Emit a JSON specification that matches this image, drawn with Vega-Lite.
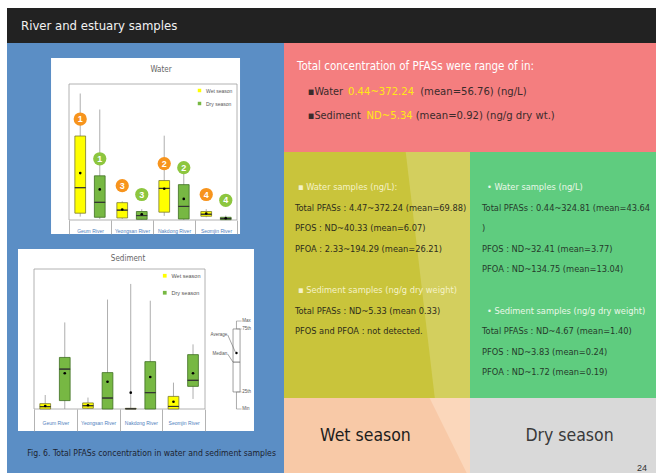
{
"$schema": "https://vega.github.io/schema/vega-lite/v6.json",
"background": "#5b8ec5",
"padding": 0,
"spacing": 0,
"config": {"view": {"stroke": null}, "font": "Liberation Sans"},
"datasets": {
 "water": [
  {"river": "Geum River", "season": "Wet season", "min": 10, "q1": 20, "median": 95, "q3": 247, "max": 372, "mean": 138, "rank": 1},
  {"river": "Geum River", "season": "Dry season", "min": 3, "q1": 8, "median": 52, "q3": 130, "max": 325, "mean": 90, "rank": 1},
  {"river": "Yeongsan River", "season": "Wet season", "min": 3, "q1": 6, "median": 29, "q3": 51, "max": 55, "mean": 31, "rank": 3},
  {"river": "Yeongsan River", "season": "Dry season", "min": 1, "q1": 2, "median": 13, "q3": 25, "max": 32, "mean": 17, "rank": 3},
  {"river": "Nakdong River", "season": "Wet season", "min": 12, "q1": 23, "median": 93, "q3": 116, "max": 248, "mean": 92, "rank": 2},
  {"river": "Nakdong River", "season": "Dry season", "min": 0, "q1": 3, "median": 40, "q3": 104, "max": 150, "mean": 62, "rank": 2},
  {"river": "Seomjin River", "season": "Wet season", "min": 8, "q1": 11, "median": 17, "q3": 25, "max": 32, "mean": 19, "rank": 4},
  {"river": "Seomjin River", "season": "Dry season", "min": 0.4, "q1": 1, "median": 4, "q3": 8, "max": 13, "mean": 5, "rank": 4}
 ],
 "sediment": [
  {"river": "Geum River", "season": "Wet season", "min": 0, "q1": 0, "median": 0.1, "q3": 0.23, "max": 0.6, "mean": 0.13},
  {"river": "Geum River", "season": "Dry season", "min": 0, "q1": 0.36, "median": 1.71, "q3": 2.21, "max": 3.71, "mean": 1.53},
  {"river": "Yeongsan River", "season": "Wet season", "min": 0, "q1": 0.03, "median": 0.14, "q3": 0.26, "max": 0.49, "mean": 0.16},
  {"river": "Yeongsan River", "season": "Dry season", "min": 0, "q1": 0, "median": 0.47, "q3": 1.56, "max": 4.69, "mean": 1.17},
  {"river": "Nakdong River", "season": "Wet season", "min": 0, "q1": 0, "median": 0.01, "q3": 0.03, "max": 5.36, "mean": 0.7},
  {"river": "Nakdong River", "season": "Dry season", "min": 0, "q1": 0, "median": 0.7, "q3": 2.03, "max": 4.64, "mean": 1.37},
  {"river": "Seomjin River", "season": "Wet season", "min": 0, "q1": 0, "median": 0.11, "q3": 0.54, "max": 1.13, "mean": 0.31},
  {"river": "Seomjin River", "season": "Dry season", "min": 0.43, "q1": 0.97, "median": 1.23, "q3": 2.33, "max": 2.77, "mean": 1.53}
 ],
 "keybox": [{"min": 0, "q1": 0.73, "median": 2.01, "mean": 2.4, "q3": 3.43, "max": 3.77}],
 "keylabels": [
  {"stat": "Max", "value": 3.77}, {"stat": "75th", "value": 3.43}, {"stat": "25th", "value": 0.73},
  {"stat": "Min", "value": 0}, {"stat": "Average", "value": 2.4}, {"stat": "Median", "value": 2.01}
 ],
 "summary": [
  {"line": 0, "part": "head", "text": "Total concentration of PFASs were range of in:"},
  {"line": 1, "part": "label", "text": "▪Water"},
  {"line": 1, "part": "range_w", "text": "0.44~372.24"},
  {"line": 1, "part": "rest_w", "text": "(mean=56.76)  (ng/L)"},
  {"line": 2, "part": "label", "text": "▪Sediment"},
  {"line": 2, "part": "range_s", "text": "ND~5.34"},
  {"line": 2, "part": "rest_s", "text": "(mean=0.92) (ng/g dry wt.)"}
 ],
 "notes": [
  {"panel": "wet", "line": 0, "kind": "heading", "text": "▪  Water samples (ng/L):"},
  {"panel": "wet", "line": 1, "kind": "body", "text": "Total PFASs : 4.47~372.24 (mean=69.88)"},
  {"panel": "wet", "line": 2, "kind": "body", "text": "PFOS :  ND~40.33 (mean=6.07)"},
  {"panel": "wet", "line": 3, "kind": "body", "text": "PFOA : 2.33~194.29 (mean=26.21)"},
  {"panel": "wet", "line": 5, "kind": "heading", "text": "▪  Sediment samples (ng/g dry weight)"},
  {"panel": "wet", "line": 6, "kind": "body", "text": "Total PFASs : ND~5.33 (mean 0.33)"},
  {"panel": "wet", "line": 7, "kind": "body", "text": "PFOS and PFOA :  not detected."},
  {"panel": "dry", "line": 0, "kind": "heading", "text": "•  Water samples (ng/L)"},
  {"panel": "dry", "line": 1, "kind": "body", "text": "Total PFASs : 0.44~324.81 (mean=43.64"},
  {"panel": "dry", "line": 2, "kind": "body", "text": ")"},
  {"panel": "dry", "line": 3, "kind": "body", "text": "PFOS : ND~32.41 (mean=3.77)"},
  {"panel": "dry", "line": 4, "kind": "body", "text": "PFOA : ND~134.75 (mean=13.04)"},
  {"panel": "dry", "line": 6, "kind": "heading", "text": "•  Sediment samples (ng/g dry weight)"},
  {"panel": "dry", "line": 7, "kind": "body", "text": "Total PFASs : ND~4.67 (mean=1.40)"},
  {"panel": "dry", "line": 8, "kind": "body", "text": "PFOS : ND~3.83 (mean=0.24)"},
  {"panel": "dry", "line": 9, "kind": "body", "text": "PFOA : ND~1.72 (mean=0.19)"}
 ]
},
"vconcat": [
 {"width": 656, "height": 8, "data": {"values": [{}]}, "mark": {"type": "rect", "color": "#ffffff"}},
 {"hconcat": [
  {"width": 7, "height": 465, "data": {"values": [{}]}, "mark": {"type": "rect", "color": "#ffffff"}},
  {"vconcat": [
   {"width": 649, "height": 35, "view": {"fill": "#222222", "stroke": null},
    "data": {"values": [{"t": "River and estuary samples"}]},
    "mark": {"type": "text", "align": "left", "baseline": "middle", "font": "DejaVu Sans Condensed, Roboto, sans-serif", "fontSize": 13, "color": "#f2f2f2"},
    "encoding": {"text": {"field": "t"}, "x": {"datum": 0, "type": "quantitative", "scale": {"domain": [-0.0221, 1], "nice": false, "zero": false}, "axis": null}}},
   {"hconcat": [
    {"vconcat": [
     {"width": 1, "height": 1, "data": {"values": [{}]}, "mark": {"type": "rect", "opacity": 0}},
     {"hconcat": [
      {"width": 62, "height": 1, "data": {"values": [{}]}, "mark": {"type": "rect", "opacity": 0}},
      {"width": 168, "height": 136,
       "resolve": {"scale": {"x": "independent"}},
       "layer": [
        {"data": {"values": [{"chart": "Water"}]},
         "layer": [
          {"mark": {"type": "rect", "fill": "#ffffff"},
           "encoding": {"x": {"datum": -0.107, "type": "quantitative", "scale": {"domain": [0, 1], "nice": false, "zero": false}, "axis": null}, "x2": {"datum": 1.018},
                        "y": {"datum": -41.18, "type": "quantitative", "scale": {"domain": [0, 400], "nice": false, "zero": false}, "axis": null}, "y2": {"datum": 476.47}}},
          {"mark": {"type": "rect", "fillOpacity": 0, "stroke": "#a0a0a0", "strokeWidth": 0.8},
           "encoding": {"x": {"datum": 0, "type": "quantitative", "axis": null}, "x2": {"datum": 1}, "y": {"datum": 0, "type": "quantitative", "axis": null}, "y2": {"datum": 400}}},
          {"mark": {"type": "text", "font": "DejaVu Sans Condensed, Roboto, sans-serif", "fontSize": 8, "color": "#666666"},
           "encoding": {"text": {"field": "chart"}, "x": {"datum": 0.548, "type": "quantitative", "axis": null}, "y": {"datum": 441, "type": "quantitative", "axis": null}}}
         ]},
        {"data": {"name": "water"},
         "encoding": {
          "x": {"field": "river", "type": "nominal", "scale": {"domain": ["Geum River", "Yeongsan River", "Nakdong River", "Seomjin River"], "paddingInner": 0, "paddingOuter": 0},
                "axis": {"orient": "bottom", "title": null, "domain": false, "tickBand": "extent", "tickSize": 14, "tickColor": "#a0a0a0", "tickWidth": 0.8, "labelFontSize": 5, "labelColor": "#4f81bd", "labelPadding": -5.5, "labelAngle": 0, "zindex": 1}},
          "xOffset": {"field": "season", "type": "nominal", "scale": {"domain": ["Wet season", "Dry season"], "paddingInner": 0.45, "paddingOuter": 0.3}}
         },
         "layer": [
          {"mark": {"type": "rule", "color": "#999999", "strokeWidth": 0.8},
           "encoding": {"y": {"field": "min", "type": "quantitative", "scale": {"domain": [0, 400], "nice": false, "zero": false},
                              "axis": {"orient": "left", "title": "Total PFASs concentration (ng/L)", "values": [0, 50, 100, 150, 200, 250, 300, 350, 400], "domain": false, "tickSize": 2, "tickColor": "#a0a0a0", "labelFontSize": 4.5, "labelColor": "#666666", "labelPadding": 1, "titleFontSize": 4.5, "titleFontWeight": "normal", "titleColor": "#666666", "titlePadding": 3, "grid": false, "zindex": 1}},
                        "y2": {"field": "max"}}},
          {"mark": {"type": "bar", "strokeWidth": 0.8},
           "encoding": {"y": {"field": "q1", "type": "quantitative", "axis": null}, "y2": {"field": "q3"},
                        "color": {"field": "season", "type": "nominal", "scale": {"domain": ["Wet season", "Dry season"], "range": ["#ffff00", "#77b843"]},
                                  "legend": {"orient": "top-right", "offset": 4, "title": null, "labelFontSize": 5, "labelColor": "#555555", "symbolType": "square", "symbolSize": 12, "rowPadding": 7, "symbolStrokeWidth": 0}},
                        "stroke": {"field": "season", "type": "nominal", "scale": {"domain": ["Wet season", "Dry season"], "range": ["#7a7a30", "#3f6e22"]}, "legend": null}}},
          {"mark": {"type": "bar", "fillOpacity": 0, "stroke": "#333333", "strokeWidth": 1},
           "encoding": {"y": {"field": "median", "type": "quantitative", "axis": null}, "y2": {"field": "median"}}},
          {"mark": {"type": "point", "filled": true, "color": "#000000", "size": 7, "opacity": 1},
           "encoding": {"y": {"field": "mean", "type": "quantitative", "axis": null}}},
          {"transform": [{"filter": "datum.season == 'Wet season'"}],
           "mark": {"type": "point", "shape": "circle", "filled": true, "color": "#f7941d", "size": 175, "opacity": 1, "yOffset": -17},
           "encoding": {"y": {"field": "q3", "type": "quantitative", "axis": null}}},
          {"transform": [{"filter": "datum.season == 'Dry season'"}],
           "mark": {"type": "point", "shape": "circle", "filled": true, "color": "#8dc63f", "size": 175, "opacity": 1, "yOffset": -17},
           "encoding": {"y": {"field": "q3", "type": "quantitative", "axis": null}}},
          {"mark": {"type": "text", "color": "#ffffff", "fontSize": 9, "fontWeight": "bold", "font": "Liberation Sans", "baseline": "middle", "yOffset": -17},
           "encoding": {"y": {"field": "q3", "type": "quantitative", "axis": null}, "text": {"field": "rank"}}}
         ]}
       ]}
     ], "spacing": 0, "bounds": "flush",
     "resolve": {"legend": {"color": "independent", "stroke": "independent"}, "scale": {"color": "independent", "stroke": "independent"}}},
     {"hconcat": [
      {"width": 27, "height": 1, "data": {"values": [{}]}, "mark": {"type": "rect", "opacity": 0}},
      {"width": 171, "height": 140,
       "resolve": {"scale": {"x": "independent"}},
       "layer": [
        {"data": {"values": [{"chart": "Sediment"}]},
         "layer": [
          {"mark": {"type": "rect", "fill": "#ffffff"},
           "encoding": {"x": {"datum": -0.0936, "type": "quantitative", "scale": {"domain": [0, 1], "nice": false, "zero": false}, "axis": null}, "x2": {"datum": 1.2865},
                        "y": {"datum": -0.943, "type": "quantitative", "scale": {"domain": [0, 6], "nice": false, "zero": false}, "axis": null}, "y2": {"datum": 6.857}}},
          {"mark": {"type": "rect", "fillOpacity": 0, "stroke": "#a0a0a0", "strokeWidth": 0.8},
           "encoding": {"x": {"datum": 0, "type": "quantitative", "axis": null}, "x2": {"datum": 1}, "y": {"datum": 0, "type": "quantitative", "axis": null}, "y2": {"datum": 6}}},
          {"mark": {"type": "text", "font": "DejaVu Sans Condensed, Roboto, sans-serif", "fontSize": 8, "color": "#666666"},
           "encoding": {"text": {"field": "chart"}, "x": {"datum": 0.55, "type": "quantitative", "axis": null}, "y": {"datum": 6.43, "type": "quantitative", "axis": null}}},
          {"data": {"name": "keybox"}, "mark": {"type": "rule", "color": "#888888", "strokeWidth": 0.7},
           "encoding": {"x": {"datum": 1.184, "type": "quantitative", "axis": null}, "y": {"field": "min", "type": "quantitative", "axis": null}, "y2": {"field": "max"}}},
          {"data": {"name": "keybox"}, "mark": {"type": "rect", "fill": "#ffffff", "stroke": "#777777", "strokeWidth": 0.7},
           "encoding": {"x": {"datum": 1.164, "type": "quantitative", "axis": null}, "x2": {"datum": 1.205}, "y": {"field": "q1", "type": "quantitative", "axis": null}, "y2": {"field": "q3"}}},
          {"data": {"name": "keybox"}, "mark": {"type": "rule", "color": "#555555", "strokeWidth": 0.8},
           "encoding": {"x": {"datum": 1.164, "type": "quantitative", "axis": null}, "x2": {"datum": 1.205}, "y": {"field": "median", "type": "quantitative", "axis": null}}},
          {"data": {"name": "keybox"}, "mark": {"type": "point", "filled": true, "color": "#000000", "size": 6, "opacity": 1},
           "encoding": {"x": {"datum": 1.184, "type": "quantitative", "axis": null}, "y": {"field": "mean", "type": "quantitative", "axis": null}}},
          {"data": {"name": "keylabels"}, "transform": [{"filter": "datum.stat != 'Average' && datum.stat != 'Median'"}],
           "mark": {"type": "rule", "color": "#888888", "strokeWidth": 0.6},
           "encoding": {"x": {"datum": 1.184, "type": "quantitative", "axis": null}, "x2": {"datum": 1.214}, "y": {"field": "value", "type": "quantitative", "axis": null}}},
          {"data": {"name": "keylabels"}, "transform": [{"filter": "datum.stat != 'Average' && datum.stat != 'Median'"}],
           "mark": {"type": "text", "align": "left", "baseline": "middle", "fontSize": 4.5, "color": "#555555", "font": "Liberation Sans"},
           "encoding": {"text": {"field": "stat"}, "x": {"datum": 1.218, "type": "quantitative", "axis": null}, "y": {"field": "value", "type": "quantitative", "axis": null}}},
          {"data": {"name": "keylabels"}, "transform": [{"filter": "datum.stat == 'Average'"}],
           "mark": {"type": "text", "align": "right", "baseline": "middle", "fontSize": 4.5, "color": "#555555", "font": "Liberation Sans", "yOffset": -18},
           "encoding": {"text": {"field": "stat"}, "x": {"datum": 1.13, "type": "quantitative", "axis": null}, "y": {"field": "value", "type": "quantitative", "axis": null}}},
          {"data": {"name": "keylabels"}, "transform": [{"filter": "datum.stat == 'Median'"}],
           "mark": {"type": "text", "align": "right", "baseline": "middle", "fontSize": 4.5, "color": "#555555", "font": "Liberation Sans", "yOffset": -8},
           "encoding": {"text": {"field": "stat"}, "x": {"datum": 1.13, "type": "quantitative", "axis": null}, "y": {"field": "value", "type": "quantitative", "axis": null}}},
          {"data": {"name": "keylabels"}, "transform": [{"filter": "datum.stat == 'Average'"}],
           "mark": {"type": "rule", "color": "#666666", "strokeWidth": 0.6, "yOffset": -18, "y2Offset": 0},
           "encoding": {"x": {"datum": 1.133, "type": "quantitative", "axis": null}, "x2": {"datum": 1.18}, "y": {"field": "value", "type": "quantitative", "axis": null}, "y2": {"field": "value"}}},
          {"data": {"name": "keylabels"}, "transform": [{"filter": "datum.stat == 'Median'"}],
           "mark": {"type": "rule", "color": "#666666", "strokeWidth": 0.6, "yOffset": -8, "y2Offset": 0},
           "encoding": {"x": {"datum": 1.133, "type": "quantitative", "axis": null}, "x2": {"datum": 1.164}, "y": {"field": "value", "type": "quantitative", "axis": null}, "y2": {"field": "value"}}}
         ]},
        {"data": {"name": "sediment"},
         "encoding": {
          "x": {"field": "river", "type": "nominal", "scale": {"domain": ["Geum River", "Yeongsan River", "Nakdong River", "Seomjin River"], "paddingInner": 0, "paddingOuter": 0},
                "axis": {"orient": "bottom", "title": null, "domain": false, "tickBand": "extent", "tickSize": 22, "tickColor": "#a0a0a0", "tickWidth": 0.8, "labelFontSize": 5, "labelColor": "#4f81bd", "labelPadding": -10.5, "labelAngle": 0, "zindex": 1}},
          "xOffset": {"field": "season", "type": "nominal", "scale": {"domain": ["Wet season", "Dry season"], "paddingInner": 0.45, "paddingOuter": 0.3}}
         },
         "layer": [
          {"mark": {"type": "rule", "color": "#999999", "strokeWidth": 0.8},
           "encoding": {"y": {"field": "min", "type": "quantitative", "scale": {"domain": [0, 6], "nice": false, "zero": false},
                              "axis": {"orient": "left", "title": "Total PFASs concentration in sediment (ng/g dry wt.)", "values": [0, 1, 2, 3, 4, 5, 6], "domain": false, "tickSize": 2, "tickColor": "#a0a0a0", "labelFontSize": 4.5, "labelColor": "#666666", "labelPadding": 1, "titleFontSize": 4.5, "titleFontWeight": "normal", "titleColor": "#666666", "titlePadding": 3, "grid": false, "zindex": 1}},
                        "y2": {"field": "max"}}},
          {"mark": {"type": "bar", "strokeWidth": 0.8},
           "encoding": {"y": {"field": "q1", "type": "quantitative", "axis": null}, "y2": {"field": "q3"},
                        "color": {"field": "season", "type": "nominal", "scale": {"domain": ["Wet season", "Dry season"], "range": ["#ffff00", "#77b843"]},
                                  "legend": {"orient": "top-right", "offset": 4, "title": null, "labelFontSize": 5.5, "labelColor": "#555555", "symbolType": "square", "symbolSize": 14, "rowPadding": 10, "symbolStrokeWidth": 0}},
                        "stroke": {"field": "season", "type": "nominal", "scale": {"domain": ["Wet season", "Dry season"], "range": ["#7a7a30", "#3f6e22"]}, "legend": null}}},
          {"mark": {"type": "bar", "fillOpacity": 0, "stroke": "#333333", "strokeWidth": 1},
           "encoding": {"y": {"field": "median", "type": "quantitative", "axis": null}, "y2": {"field": "median"}}},
          {"mark": {"type": "point", "filled": true, "color": "#000000", "size": 7, "opacity": 1},
           "encoding": {"y": {"field": "mean", "type": "quantitative", "axis": null}}}
         ]}
       ]}
     ], "spacing": 0, "bounds": "flush",
     "resolve": {"legend": {"color": "independent", "stroke": "independent"}, "scale": {"color": "independent", "stroke": "independent"}}},
     {"width": 277, "height": 14, "data": {"values": [{"t": "Fig. 6. Total PFASs concentration in water and sediment samples"}]},
      "mark": {"type": "text", "font": "DejaVu Sans Condensed, Roboto, sans-serif", "fontSize": 8.6, "color": "#1b2330", "baseline": "middle"},
      "encoding": {"text": {"field": "t"}, "x": {"datum": 0.522, "type": "quantitative", "scale": {"domain": [0, 1], "nice": false, "zero": false}, "axis": null}}}
    ], "spacing": 14,
    "resolve": {"legend": {"color": "independent", "stroke": "independent"}, "scale": {"color": "independent", "stroke": "independent"}}},
    {"vconcat": [
     {"width": 372, "height": 109, "view": {"fill": "#f47e7f", "stroke": null},
      "data": {"name": "summary"},
      "encoding": {"y": {"field": "line", "type": "quantitative", "scale": {"domain": [-0.98, 3.469], "reverse": true, "nice": false, "zero": false}, "axis": null}, "text": {"field": "text"}},
      "layer": [
       {"transform": [{"filter": "datum.part == 'head'"}],
        "mark": {"type": "text", "align": "left", "baseline": "middle", "font": "DejaVu Sans Condensed, Roboto, sans-serif", "fontSize": 11.5, "color": "#ffffff"},
        "encoding": {"x": {"datum": 0.035, "type": "quantitative", "scale": {"domain": [0, 1], "nice": false, "zero": false}, "axis": null}}},
       {"transform": [{"filter": "datum.part == 'label'"}],
        "mark": {"type": "text", "align": "left", "baseline": "middle", "font": "DejaVu Sans Condensed, Roboto, sans-serif", "fontSize": 10.8, "color": "#3a2b2b"},
        "encoding": {"x": {"datum": 0.064, "type": "quantitative", "axis": null}}},
       {"transform": [{"filter": "datum.part == 'range_w'"}],
        "mark": {"type": "text", "align": "left", "baseline": "middle", "font": "DejaVu Sans Condensed, Roboto, sans-serif", "fontSize": 11.2, "color": "#ffe816"},
        "encoding": {"x": {"datum": 0.172, "type": "quantitative", "axis": null}}},
       {"transform": [{"filter": "datum.part == 'rest_w'"}],
        "mark": {"type": "text", "align": "left", "baseline": "middle", "font": "DejaVu Sans Condensed, Roboto, sans-serif", "fontSize": 11.2, "color": "#3a2b2b"},
        "encoding": {"x": {"datum": 0.366, "type": "quantitative", "axis": null}}},
       {"transform": [{"filter": "datum.part == 'range_s'"}],
        "mark": {"type": "text", "align": "left", "baseline": "middle", "font": "DejaVu Sans Condensed, Roboto, sans-serif", "fontSize": 11.2, "color": "#ffe816"},
        "encoding": {"x": {"datum": 0.222, "type": "quantitative", "axis": null}}},
       {"transform": [{"filter": "datum.part == 'rest_s'"}],
        "mark": {"type": "text", "align": "left", "baseline": "middle", "font": "DejaVu Sans Condensed, Roboto, sans-serif", "fontSize": 11.2, "color": "#3a2b2b"},
        "encoding": {"x": {"datum": 0.354, "type": "quantitative", "axis": null}}}
      ]},
     {"hconcat": [
      {"width": 186, "height": 246, "view": {"fill": "#c9c43b", "stroke": null},
       "layer": [
        {"data": {"values": [{}]},
         "mark": {"type": "rule", "color": "#d3cf5e", "strokeWidth": 80, "strokeCap": "butt", "clip": true},
         "encoding": {"x": {"datum": 0.867, "type": "quantitative", "scale": {"domain": [0, 1], "nice": false, "zero": false}, "axis": null}, "x2": {"datum": 1.032},
                      "y": {"datum": -2, "type": "quantitative", "scale": {"domain": [-1.699, 10.243], "reverse": true, "nice": false, "zero": false}, "axis": null}, "y2": {"datum": 10.6}}},
        {"data": {"name": "notes"},
         "transform": [{"filter": "datum.panel == 'wet' && datum.kind == 'heading'"}],
         "mark": {"type": "text", "align": "left", "baseline": "middle", "font": "DejaVu Sans Condensed, Roboto, sans-serif", "fontSize": 9.2, "color": "#f5f2c8"},
         "encoding": {"x": {"datum": 0.075, "type": "quantitative", "axis": null}, "y": {"field": "line", "type": "quantitative", "axis": null}, "text": {"field": "text"}}},
        {"data": {"name": "notes"},
         "transform": [{"filter": "datum.panel == 'wet' && datum.kind == 'body'"}],
         "mark": {"type": "text", "align": "left", "baseline": "middle", "font": "DejaVu Sans Condensed, Roboto, sans-serif", "fontSize": 9.2, "color": "#2e2d1c"},
         "encoding": {"x": {"datum": 0.059, "type": "quantitative", "axis": null}, "y": {"field": "line", "type": "quantitative", "axis": null}, "text": {"field": "text"}}}
       ]},
      {"width": 186, "height": 246, "view": {"fill": "#5fcc7f", "stroke": null},
       "data": {"name": "notes"},
       "transform": [{"filter": "datum.panel == 'dry'"}],
       "encoding": {"y": {"field": "line", "type": "quantitative", "scale": {"domain": [-1.699, 10.243], "reverse": true, "nice": false, "zero": false}, "axis": null}, "text": {"field": "text"}},
       "layer": [
        {"transform": [{"filter": "datum.kind == 'heading'"}],
         "mark": {"type": "text", "align": "left", "baseline": "middle", "font": "DejaVu Sans Condensed, Roboto, sans-serif", "fontSize": 9.2, "color": "#eaf7e8"},
         "encoding": {"x": {"datum": 0.091, "type": "quantitative", "scale": {"domain": [0, 1], "nice": false, "zero": false}, "axis": null}}},
        {"transform": [{"filter": "datum.kind == 'body'"}],
         "mark": {"type": "text", "align": "left", "baseline": "middle", "font": "DejaVu Sans Condensed, Roboto, sans-serif", "fontSize": 9.2, "color": "#263a2b"},
         "encoding": {"x": {"datum": 0.065, "type": "quantitative", "axis": null}}}
       ]}
     ], "spacing": 0, "bounds": "flush"},
     {"hconcat": [
      {"width": 186, "height": 75, "view": {"fill": "#f8c9a7", "stroke": null},
       "layer": [
        {"data": {"values": [{}]},
         "mark": {"type": "rule", "color": "#fbd7bb", "strokeWidth": 40, "strokeCap": "butt", "clip": true},
         "encoding": {"x": {"datum": 0.863, "type": "quantitative", "scale": {"domain": [0, 1], "nice": false, "zero": false}, "axis": null}, "x2": {"datum": 1.142},
                      "y": {"datum": 1.2, "type": "quantitative", "scale": {"domain": [0, 1], "nice": false, "zero": false}, "axis": null}, "y2": {"datum": -0.2}}},
        {"data": {"values": [{"label": "Wet season"}]},
         "mark": {"type": "text", "font": "DejaVu Sans Condensed, Roboto, sans-serif", "fontSize": 17.5, "color": "#1c1c1c", "baseline": "middle"},
         "encoding": {"text": {"field": "label"}, "x": {"datum": 0.438, "type": "quantitative", "axis": null}, "y": {"datum": 0.5, "type": "quantitative", "axis": null}}}
       ]},
      {"width": 186, "height": 75, "view": {"fill": "#d9d9d9", "stroke": null},
       "layer": [
        {"data": {"values": [{"label": "Dry season"}]},
         "mark": {"type": "text", "font": "DejaVu Sans Condensed, Roboto, sans-serif", "fontSize": 17.5, "color": "#3a3a3a", "baseline": "middle"},
         "encoding": {"text": {"field": "label"}, "x": {"datum": 0.535, "type": "quantitative", "scale": {"domain": [0, 1], "nice": false, "zero": false}, "axis": null}}},
        {"data": {"values": [{"page": "24"}]},
         "mark": {"type": "text", "font": "Liberation Sans", "fontSize": 9, "color": "#333333", "baseline": "middle", "align": "right"},
         "encoding": {"text": {"field": "page"}, "x": {"datum": 0.952, "type": "quantitative", "axis": null}, "y": {"datum": 0.067, "type": "quantitative", "scale": {"domain": [0, 1], "nice": false, "zero": false}, "axis": null}}}
       ]}
     ], "spacing": 0, "bounds": "flush"}
    ], "spacing": 0}
   ], "spacing": 0}
  ], "spacing": 0}
 ], "spacing": 0}
]
}
